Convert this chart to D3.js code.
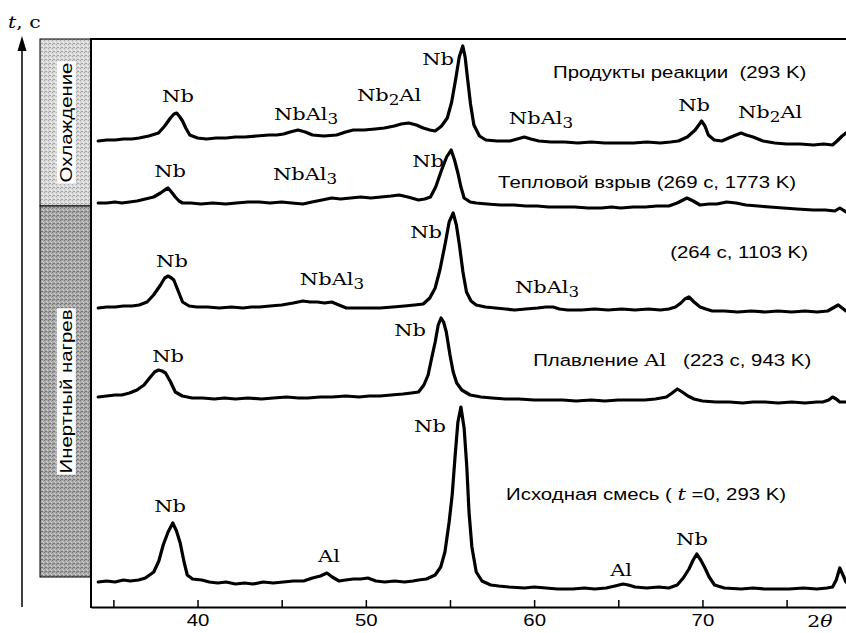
<!DOCTYPE html>
<html>
<head>
<meta charset="utf-8">
<script src="https://cdn.jsdelivr.net/npm/d3@7"></script>
<style>
body { margin: 0; background: #fff; }
svg text { white-space: pre; }
</style>
</head>
<body>
<svg id="chart" width="846" height="633"></svg>
<script>
// 2θ in degrees, intensity in arbitrary units (each pattern already shifted up)
const products = [[34.1,466],[34.6,467],[35.1,467],[35.6,468],[36.1,468],[36.53,469],[37.1,471],[37.68,474],[38.05,481],[38.39,489],[38.6,493],[38.76,494],[38.95,490],[39.11,486],[39.3,479],[39.54,472],[40.0,469],[40.54,468],[41.1,469],[41.7,469],[42.25,470],[42.8,470],[43.5,471],[44.25,472],[44.7,472],[45.12,473],[45.5,475],[45.97,477],[46.4,475],[46.83,472],[47.5,471],[48.26,472],[48.8,475],[49.26,477],[49.9,477],[50.55,478],[51.1,479],[51.69,481],[52.1,483],[52.55,484],[53.0,482],[53.41,479],[53.8,477],[54.12,476],[54.5,481],[54.84,489],[55.1,505],[55.35,529],[55.55,550],[55.76,561],[55.9,550],[56.04,529],[56.22,503],[56.42,482],[56.75,471],[57.13,467],[57.8,466],[58.56,466],[59.0,468],[59.42,470],[59.8,468],[60.28,466],[61.0,465],[61.8,465],[62.6,464],[63.4,465],[64.2,464],[65.14,464],[65.9,464],[66.7,465],[67.5,464],[68.1,465],[68.57,466],[69.1,470],[69.57,477],[69.95,486],[70.15,481],[70.35,472],[70.7,467],[71.15,466],[71.7,470],[72.29,474],[72.6,472],[73.01,470],[73.6,466],[74.3,464],[75.0,463],[75.8,463],[76.6,462],[77.2,463],[77.73,462],[78.0,466],[78.3,471],[78.53,474]];

const explosion = [[34.1,404],[34.6,404],[35.1,405],[35.5,404],[35.96,405],[36.4,406],[36.9,408],[37.39,410],[37.8,414],[38.05,417],[38.25,419],[38.45,415],[38.68,410],[38.9,406],[39.11,404],[39.6,404],[40.2,403],[40.9,404],[41.68,403],[42.3,404],[43.0,405],[43.68,405],[44.3,404],[45.0,405],[45.6,404],[46.26,403],[46.8,405],[47.4,407],[47.97,409],[48.5,408],[49.1,409],[49.69,410],[50.3,409],[50.9,410],[51.5,411],[51.98,412],[52.5,410],[53.13,407],[53.5,408],[53.84,410],[54.15,420],[54.5,437],[54.8,450],[55.07,457],[55.27,447],[55.47,434],[55.65,420],[55.84,409],[56.2,405],[56.56,404],[57.2,403],[58.0,402],[58.8,402],[59.5,401],[60.2,401],[60.85,400],[61.6,400],[62.4,400],[63.2,399],[64.0,399],[64.6,400],[65.14,399],[65.9,400],[66.6,400],[67.3,401],[68.0,401],[68.5,404],[69.08,409],[69.45,406],[69.86,402],[70.4,403],[70.86,403],[71.43,405],[72.0,404],[72.58,402],[73.3,401],[74.0,400],[74.8,399],[75.6,398],[76.58,397],[77.3,397],[77.87,396],[78.16,399],[78.53,395]];

const heating264 = [[34.1,299],[34.6,300],[35.1,300],[35.6,301],[36.1,301],[36.53,302],[37.0,305],[37.39,312],[37.8,322],[38.05,329],[38.25,331],[38.45,329],[38.59,327],[38.85,316],[39.11,305],[39.5,301],[39.96,300],[40.6,300],[41.3,299],[42.0,300],[42.7,299],[43.2,300],[43.68,300],[44.3,301],[45.0,302],[45.69,304],[46.26,306],[46.7,305],[47.12,305],[47.55,304],[47.97,305],[48.4,302],[48.84,299],[49.4,299],[50.1,299],[50.84,299],[51.6,300],[52.3,301],[52.9,302],[53.41,303],[53.8,309],[54.12,319],[54.4,337],[54.7,362],[54.95,385],[55.19,394],[55.38,382],[55.56,362],[55.77,335],[55.98,315],[56.25,306],[56.56,302],[57.1,300],[57.7,299],[58.3,298],[58.85,297],[59.5,298],[60.2,299],[60.7,300],[61.13,300],[61.5,298],[61.99,297],[62.8,297],[63.6,298],[64.4,297],[65.2,298],[66.0,297],[66.8,298],[67.5,297],[68.0,298],[68.4,300],[68.72,304],[68.95,308],[69.2,310],[69.5,305],[69.86,300],[70.2,298],[70.58,296],[71.3,296],[72.1,295],[72.9,296],[73.72,295],[74.5,296],[75.3,295],[76.1,296],[76.8,295],[77.44,296],[77.75,299],[78.07,302],[78.3,299],[78.53,296]];

const meltingAl = [[34.1,210],[34.6,211],[35.1,212],[35.5,212],[35.96,214],[36.4,217],[36.82,222],[37.2,230],[37.45,235],[37.68,237],[37.9,236],[38.1,234],[38.4,225],[38.68,215],[39.1,211],[39.68,209],[40.3,209],[41.0,208],[41.6,209],[42.25,208],[43.0,209],[43.8,208],[44.5,209],[45.3,210],[46.0,209],[46.55,209],[47.3,210],[48.0,210],[48.8,211],[49.6,210],[50.2,211],[50.84,211],[51.5,212],[52.2,213],[52.7,214],[53.13,215],[53.45,222],[53.7,232],[53.9,248],[54.12,265],[54.3,282],[54.47,289],[54.62,285],[54.78,275],[55.0,252],[55.19,235],[55.4,224],[55.7,217],[56.2,212],[56.85,210],[57.5,209],[58.3,208],[59.1,208],[60.0,207],[60.85,207],[61.7,207],[62.5,206],[63.4,207],[64.2,206],[65.0,207],[65.8,207],[66.57,207],[67.2,208],[67.86,210],[68.2,214],[68.51,218],[68.8,215],[69.14,211],[69.5,208],[70.0,206],[70.8,205],[71.6,205],[72.4,204],[73.0,205],[73.72,205],[74.5,204],[75.3,205],[76.1,204],[76.8,205],[77.15,205],[77.5,207],[77.73,210],[77.95,208],[78.16,205],[78.53,205]];

const mixture = [[34.1,25],[34.6,26],[35.1,25],[35.6,27],[36.0,26],[36.5,27],[36.9,29],[37.4,35],[37.7,46],[37.96,62],[38.25,75],[38.53,84],[38.75,76],[38.97,64],[39.2,45],[39.39,32],[39.7,28],[40.25,27],[40.7,25],[41.2,24],[41.7,25],[42.25,23],[42.8,24],[43.3,23],[43.9,25],[44.5,24],[45.1,25],[45.7,26],[46.3,26],[46.83,29],[47.3,31],[47.69,34],[48.0,30],[48.41,26],[48.8,27],[49.26,28],[49.7,28],[50.12,29],[50.6,26],[51.12,25],[51.7,26],[52.3,25],[52.8,26],[53.13,27],[53.6,28],[54.12,32],[54.45,40],[54.7,55],[54.95,85],[55.13,112],[55.3,150],[55.47,185],[55.65,200],[55.84,179],[56.0,140],[56.13,95],[56.3,60],[56.56,35],[56.9,26],[57.42,22],[57.9,21],[58.5,20],[59.42,19],[60.0,20],[60.7,19],[61.4,18],[62.28,18],[63.0,19],[63.6,18],[64.28,19],[64.8,21],[65.28,23],[65.6,22],[66.0,20],[66.7,19],[67.4,20],[68.0,19],[68.5,22],[68.86,29],[69.2,38],[69.45,47],[69.66,53],[69.9,47],[70.15,39],[70.4,30],[70.72,22],[71.3,19],[72.3,18],[73.0,19],[73.7,18],[74.4,18],[75.15,18],[76.0,19],[76.8,18],[77.4,19],[77.73,20],[77.95,27],[78.16,39],[78.35,32],[78.53,25]];

// peak labels: [text, 2θ, intensity]; "_" marks a subscript digit
const peakLabels = [
  ["Nb", 38.84, 505], ["NbAl_3", 46.45, 487], ["Nb_2Al", 51.38, 506], ["Nb", 54.29, 542],
  ["NbAl_3", 60.41, 483], ["Nb", 69.5, 496], ["Nb_2Al", 74.02, 489],
  ["Nb", 38.37, 430], ["NbAl_3", 46.39, 427], ["Nb", 53.7, 440],
  ["Nb", 38.48, 340], ["NbAl_3", 47.99, 322], ["Nb", 53.58, 369], ["NbAl_3", 60.77, 314],
  ["Nb", 38.25, 245], ["Nb", 52.63, 271],
  ["Nb", 38.37, 95], ["Al", 47.81, 45], ["Nb", 53.81, 175], ["Al", 65.17, 31], ["Nb", 69.38, 62]
];

// captions: [segments, 2θ, intensity]; segment = [font, text]
const captions = [
  [[["sans", "Продукты реакции  (293 K)"]], 61.12, 529],
  [[["sans", "Тепловой взрыв (269 с, 1773 K)"]], 57.86, 419],
  [[["sans", "(264 с, 1103 K)"]], 68.08, 349],
  [[["sans", "Плавление "], ["serif", "Al"], ["sans", "   (223 с, 943 K)"]], 59.94, 241],
  [[["sans", "Исходная смесь ( "], ["italic", "t"], ["sans", " =0, 293 K)"]], 58.33, 107]
];

const xTicks = [35, 40, 45, 50, 55, 60, 65, 70, 75];
const stageNames = ["Охлаждение", "Инертный нагрев"];
const stageTop = [568, 401];
const stageBottom = [401, 30];

const svg = d3.select('#chart');
const x = d3.scaleLinear().domain([33.67, 78.53]).range([91, 846]);
const y = d3.scaleLinear().domain([0, 568]).range([607, 39]);
const SX = 1.2; // the figure is stretched horizontally
const SANS = "'Liberation Sans', Arial, sans-serif";
const SERIF = "'DejaVu Serif', serif";

const defs = svg.append('defs');
function stipple(id, base, dark, light) {
    const p = defs.append('pattern').attr('id', id)
        .attr('width', 4).attr('height', 4).attr('patternUnits', 'userSpaceOnUse');
    p.append('rect').attr('width', 4).attr('height', 4).attr('fill', base);
    [[0, 0, dark], [2, 1, light], [1, 3, dark], [3, 2, light], [2, 3, dark]].forEach(d => {
        p.append('rect').attr('x', d[0]).attr('y', d[1]).attr('width', 1).attr('height', 1).attr('fill', d[2]);
    });
}
stipple('light', '#d6d6d6', '#a8a8a8', '#f4f4f4');
stipple('dark', '#a9a9a9', '#747474', '#d2d2d2');

// stage bands
const bandFill = ['url(#light)', 'url(#dark)'];
stageNames.forEach((name, i) => {
    svg.append('rect')
        .attr('x', 40).attr('width', 51)
        .attr('y', y(stageTop[i])).attr('height', y(stageBottom[i]) - y(stageTop[i]))
        .attr('fill', bandFill[i]).attr('stroke', '#000').attr('stroke-width', 1);
    const g = svg.append('g')
        .attr('transform', 'translate(66,' + ((y(stageTop[i]) + y(stageBottom[i])) / 2) + ') rotate(-90) scale(' + SX + ',1)');
    const bg = g.append('rect').attr('fill', '#fff');
    const t = g.append('text')
        .attr('text-anchor', 'middle').attr('dy', '0.36em')
        .style('font-family', SANS).style('font-size', '17px')
        .text(name);
    const b = t.node().getBBox();
    bg.attr('x', b.x - 1).attr('y', b.y).attr('width', b.width + 2).attr('height', b.height);
});

// time arrow
svg.append('line').attr('x1', 22).attr('x2', 22).attr('y1', 607).attr('y2', 46)
    .attr('stroke', '#000').attr('stroke-width', 1.5);
svg.append('path').attr('d', 'M22,36 L17.5,51 L26.5,51 Z').attr('fill', '#000');
const tl = svg.append('text').attr('transform', 'translate(8,28) scale(' + SX + ',1)')
    .style('font-family', SERIF).style('font-size', '17px');
tl.append('tspan').style('font-style', 'italic').text('t');
tl.append('tspan').text(', с');

// frame
svg.append('line').attr('x1', 91).attr('x2', 846).attr('y1', 39).attr('y2', 39)
    .attr('stroke', '#000').attr('stroke-width', 2);
svg.append('line').attr('x1', 91).attr('x2', 91).attr('y1', 38).attr('y2', 608)
    .attr('stroke', '#000').attr('stroke-width', 2);

// x axis, ticks pointing inward
const axis = svg.append('g').attr('transform', 'translate(0,607)')
    .call(d3.axisBottom(x).tickValues(xTicks).tickSizeInner(-7).tickSizeOuter(0).tickPadding(7)
        .tickFormat(d => d % 10 === 0 ? d : ''));
axis.select('.domain').attr('stroke-width', 2);
axis.selectAll('.tick line').attr('stroke-width', 1.5);
axis.selectAll('.tick text')
    .attr('fill', '#000')
    .style('font-family', SANS).style('font-size', '17px')
    .attr('transform', 'scale(' + SX + ',1)');
const xl = svg.append('text').attr('transform', 'translate(820,627) scale(' + SX + ',1)')
    .attr('text-anchor', 'middle')
    .style('font-family', SERIF).style('font-size', '17px');
xl.append('tspan').text('2');
xl.append('tspan').style('font-style', 'italic').text('θ');

// patterns
const line = d3.line().x(d => x(d[0])).y(d => y(d[1]));
[products, explosion, heating264, meltingAl, mixture].forEach(ds => {
    svg.append('path').datum(ds)
        .attr('d', line)
        .attr('fill', 'none').attr('stroke', '#000')
        .attr('stroke-width', 3.2).attr('stroke-linejoin', 'round').attr('stroke-linecap', 'round');
});

// peak labels
peakLabels.forEach(l => {
    const t = svg.append('text')
        .attr('transform', 'translate(' + x(l[1]) + ',' + y(l[2]) + ') scale(' + SX + ',1)')
        .attr('text-anchor', 'middle')
        .style('font-family', SERIF).style('font-size', '17.5px');
    const parts = l[0].split('_');
    t.append('tspan').text(parts[0]);
    if (parts.length > 1) {
        t.append('tspan').attr('dy', 4).style('font-size', '14px').text(parts[1][0]);
        if (parts[1].length > 1) t.append('tspan').attr('dy', -4).text(parts[1].slice(1));
    }
});

// captions
captions.forEach(c => {
    const t = svg.append('text')
        .attr('transform', 'translate(' + x(c[1]) + ',' + y(c[2]) + ') scale(' + SX + ',1)')
        .style('font-size', '17px');
    c[0].forEach(seg => {
        const s = t.append('tspan').text(seg[1]);
        if (seg[0] === 'sans') s.style('font-family', SANS);
        else s.style('font-family', SERIF).style('font-size', '17.5px');
        if (seg[0] === 'italic') s.style('font-style', 'italic');
    });
});
</script>
</body>
</html>
